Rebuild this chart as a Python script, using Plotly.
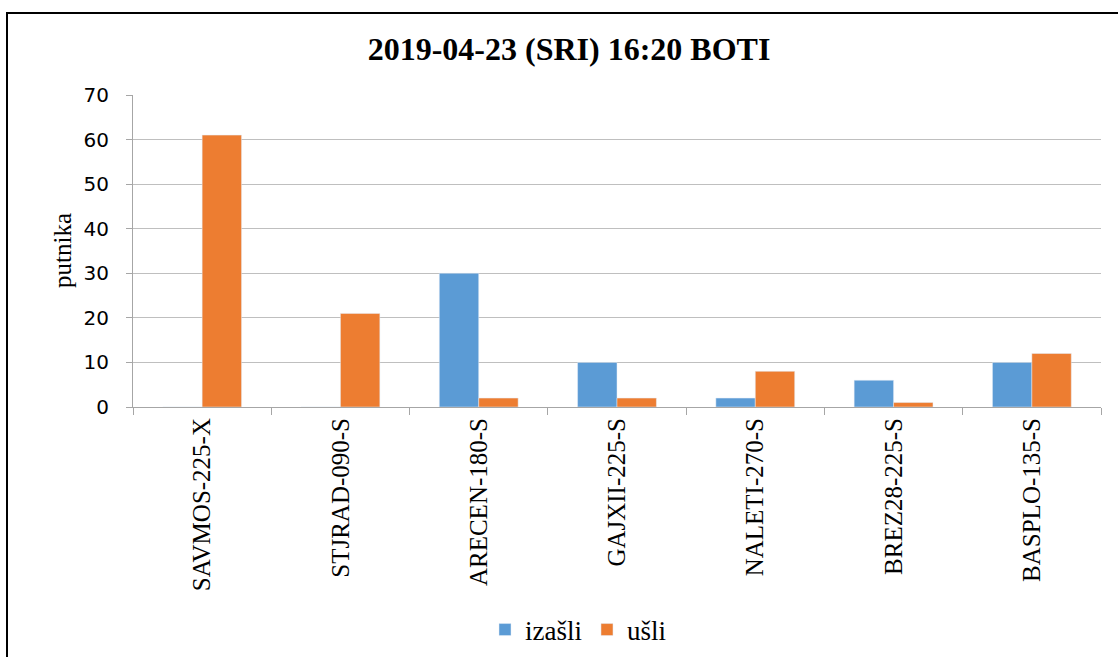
import plotly.graph_objects as go

categories = ["SAVMOS-225-X", "STJRAD-090-S", "ARECEN-180-S", "GAJXII-225-S",
              "NALETI-270-S", "BREZ28-225-S", "BASPLO-135-S"]
izasli = [0, 0, 30, 10, 2, 6, 10]
usli = [61, 21, 2, 2, 8, 1, 12]
y_ticks = [0, 10, 20, 30, 40, 50, 60, 70]

W, H = 1118, 657
L, R, T, B = 133, 17, 95, 250
pw, ph = W - L - R, H - T - B

def px_x(p):
    return (p - L) / pw

def px_y(p):
    return (H - B - p) / ph

fig = go.Figure()
fig.add_trace(go.Bar(name="izašli", x=categories, y=izasli, marker_color="#5B9BD5"))
fig.add_trace(go.Bar(name="ušli", x=categories, y=usli, marker_color="#ED7D31"))

fig.update_layout(
    width=W, height=H,
    margin=dict(l=L, r=R, t=T, b=B, autoexpand=False),
    paper_bgcolor="white", plot_bgcolor="white",
    barmode="group", bargap=0.43, bargroupgap=0,
    title=dict(text="<b>2019-04-23 (SRI) 16:20 BOTI</b>", x=569 / W, xanchor="center",
               y=1 - 49 / H, yanchor="middle",
               font=dict(family="Liberation Serif", size=32, color="black")),
    showlegend=True,
    legend=dict(orientation="h", x=px_x(578), xanchor="center", y=px_y(630), yanchor="middle",
                font=dict(family="Liberation Serif", size=27, color="black"),
                itemwidth=30, traceorder="normal"),
    xaxis=dict(type="category", tickson="boundaries", ticks="outside", ticklen=7,
               tickcolor="#A6A6A6", showline=True, linecolor="#A6A6A6", linewidth=1,
               showgrid=False, tickangle=-90, automargin=False,
               tickfont=dict(family="Liberation Serif", size=25, color="black")),
    yaxis=dict(range=[0, 70], tickvals=y_ticks, ticks="outside", ticklen=6,
               tickcolor="#A6A6A6", showline=True, linecolor="#A6A6A6", linewidth=1,
               showgrid=True, gridcolor="#BFBFBF", gridwidth=1, zeroline=False, automargin=False,
               ticklabelstandoff=13,
               tickfont=dict(family="DejaVu Sans", size=20, color="black")),
    annotations=[dict(text="putnika", xref="paper", yref="paper", x=px_x(62), y=px_y(251),
                      textangle=-90, showarrow=False, xanchor="center", yanchor="middle",
                      font=dict(family="Liberation Serif", size=25, color="black"))],
    shapes=[dict(type="rect", xref="paper", yref="paper",
                 x0=px_x(7), x1=px_x(1130), y0=px_y(680), y1=px_y(13),
                 line=dict(color="black", width=2), fillcolor="rgba(0,0,0,0)", layer="below")],
)

fig.write_html("out.html", config={"displayModeBar": False},
               post_script="document.body.style.margin='0';document.documentElement.style.overflow='hidden';")
